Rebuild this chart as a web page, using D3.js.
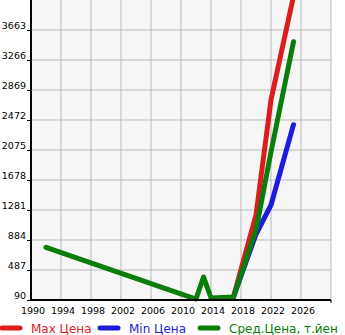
<!DOCTYPE html>
<html><head><meta charset="utf-8">
<script src="https://cdn.jsdelivr.net/npm/d3@7"></script>
<style>body{margin:0;background:#fff;}svg{display:block;}</style>
</head><body>
<script>
const yearTicks = [1990,1994,1998,2002,2006,2010,2014,2018,2022,2026];
const valueTicks = [90,487,884,1281,1678,2075,2472,2869,3266,3663];
const maxYears = [2017,2020,2022,2025];
const maxValues = [130,1215,2737,4110];
const minYears = [2017,2020,2022,2025];
const minValues = [130,960,1347,2410];
const avgYears = [1992,2012,2013,2014,2017,2020,2022,2025];
const avgValues = [787,103,395,118,130,1016,2050,3508];
const seriesNames = ["Max Цена","Min Цена","Сред.Цена, т.йен"];
const seriesColors = ["#dd1c1c","#1c1cdd","#0a7d0a"];

const W=345,H=335, L=31, R=331, T=0, B=300;
const svg=d3.select("body").append("svg").attr("width",W).attr("height",H);
const x=d3.scaleLinear().domain([1990,2030]).range([L,R]);
const y=d3.scaleLinear().domain([90,4060]).range([B,T]);

svg.append("rect").attr("x",L).attr("y",T).attr("width",R-L).attr("height",B-T).attr("fill","#f6f6f6");
const g=svg.append("g");
// grid
g.selectAll(".vg").data(yearTicks.slice(1).concat([2030])).enter().append("line")
 .attr("x1",d=>x(d)).attr("x2",d=>x(d)).attr("y1",T).attr("y2",B)
 .attr("stroke","#bbb").attr("stroke-width",1);
g.selectAll(".hg").data(valueTicks.slice(1)).enter().append("line")
 .attr("x1",L).attr("x2",R).attr("y1",d=>y(d)).attr("y2",d=>y(d))
 .attr("stroke","#bbb").attr("stroke-width",1);

const clip=svg.append("clipPath").attr("id","c").append("rect").attr("x",0).attr("y",0).attr("width",W).attr("height",B+4);
const line=d3.line().x(d=>x(d[0])).y(d=>y(d[1]));
const series=[d3.zip(maxYears,maxValues),d3.zip(minYears,minValues),d3.zip(avgYears,avgValues)];
series.forEach((s,i)=>{
  svg.append("path").attr("d",line(s)).attr("fill","none").attr("stroke",seriesColors[i])
   .attr("stroke-width",5).attr("stroke-linecap","round").attr("stroke-linejoin","round")
   .attr("clip-path","url(#c)");
});

// axes
const yAxis=d3.axisLeft(y).tickValues(valueTicks).tickSize(4).tickFormat(d=>d);
const ya=svg.append("g").attr("transform",`translate(${L},0)`).call(yAxis);
ya.select(".domain").remove();
ya.selectAll(".tick line").attr("stroke","#000");
ya.selectAll(".tick text").attr("font-family","DejaVu Sans").attr("font-size",9.5).attr("fill","#000")
 .attr("dy","-0.15em").attr("x",-5).attr("text-anchor","end");
const xAxis=d3.axisBottom(x).tickValues(yearTicks).tickSize(0).tickFormat(d=>d);
const xa=svg.append("g").attr("transform",`translate(0,${B})`).call(xAxis);
xa.select(".domain").remove();
xa.selectAll(".tick text").attr("font-family","DejaVu Sans").attr("font-size",9.5).attr("fill","#000")
 .attr("y",7).attr("dx","1.5");
svg.append("line").attr("x1",L).attr("x2",L).attr("y1",T).attr("y2",B+1).attr("stroke","#000").attr("stroke-width",2);
svg.append("line").attr("x1",L-1).attr("x2",R).attr("y1",B).attr("y2",B).attr("stroke","#000").attr("stroke-width",2);
svg.append("line").attr("x1",R).attr("x2",R).attr("y1",B).attr("y2",B+3).attr("stroke","#000").attr("stroke-width",1);

// legend
const legX=[0,98,198];
seriesNames.forEach((n,i)=>{
  const lg=svg.append("g").attr("transform",`translate(${legX[i]},328)`);
  lg.append("line").attr("x1",2).attr("x2",20).attr("y1",0).attr("y2",0).attr("stroke",seriesColors[i])
   .attr("stroke-width",5).attr("stroke-linecap","round");
  lg.append("text").attr("x",31).attr("y",4.5).attr("font-family","DejaVu Sans").attr("font-size",12)
   .attr("fill",seriesColors[i]).text(n);
});
</script>
</body></html>
